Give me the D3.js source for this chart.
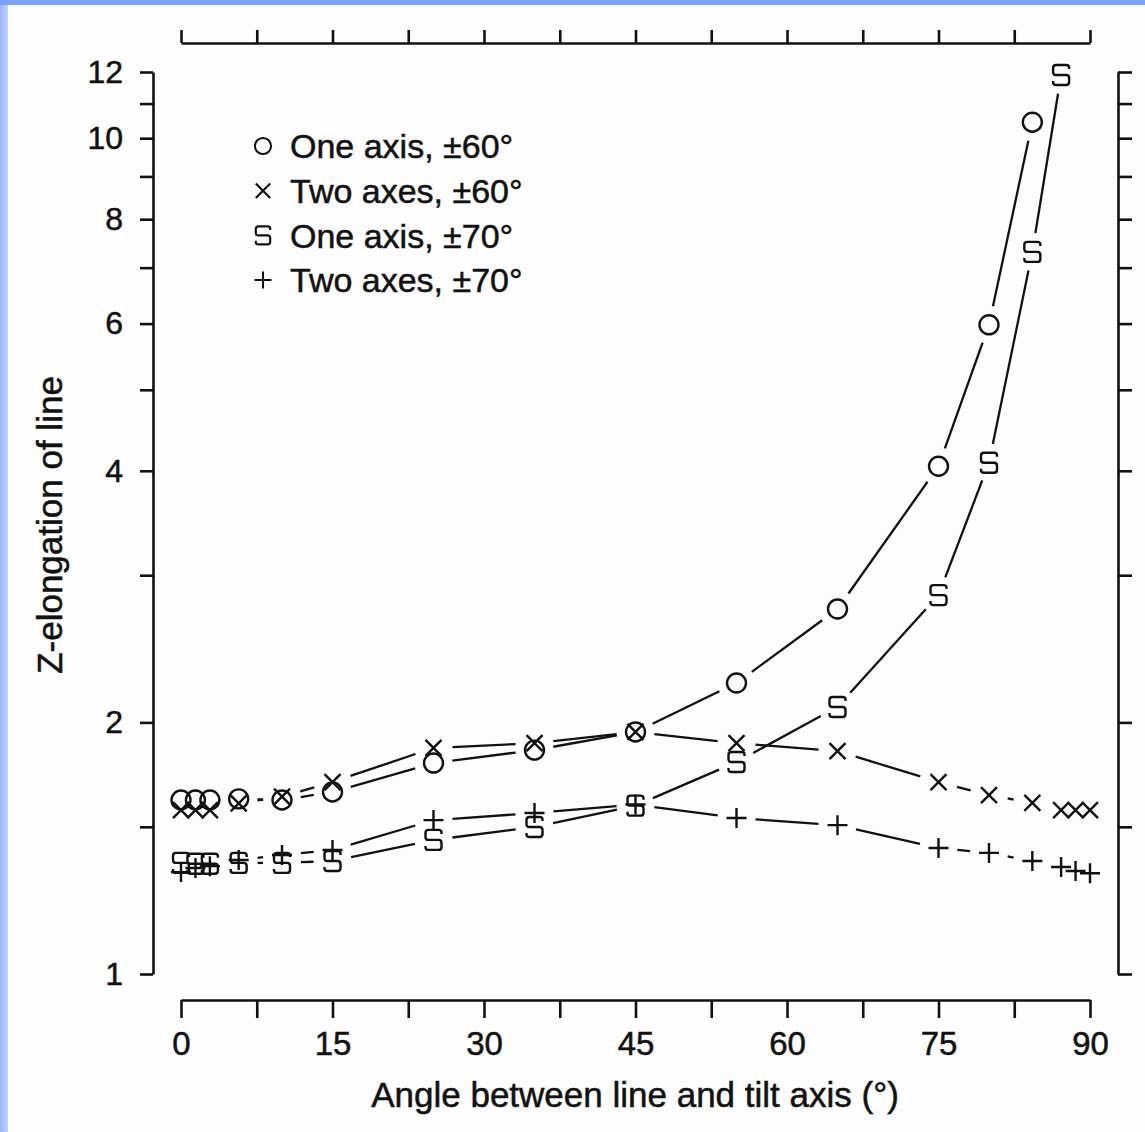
<!DOCTYPE html>
<head>
  <title>Z-elongation</title>
  <script src="https://d3js.org/d3.v7.min.js"></script>
  <style>
  body {margin: 0; background: #fdfdfd;}
  #chart {font-family: "Liberation Sans", Arial, sans-serif;}
  #chart text {fill: #111; stroke: #111; stroke-width: 0.5px;}
  .axis path, .axis line {stroke: #111; stroke-width: 2.6px;}
  .axis text {font-family: "Liberation Sans", Arial, sans-serif;}
  .seg {stroke: #111; stroke-width: 2.3px; fill: none;}
  .mark {stroke: #111; stroke-width: 2.4px; fill: none;}
  </style>
</head>
<body>
  <svg id="chart" width="1145" height="1132"></svg>
  <script>
  // angles (deg) shared by all four series
  var angles = [0, 1.43, 2.86, 5.71, 10, 15, 25, 35, 45, 55, 65, 75, 80, 84.29, 87.14, 88.57, 90];
  // one axis, +-60 (stops at 84.3)
  var oneAxis60 = [1.615, 1.615, 1.615, 1.62, 1.615, 1.651, 1.788, 1.853, 1.948, 2.229, 2.733, 4.05, 5.98, 10.45];
  // two axes, +-60
  var twoAxes60 = [1.571, 1.571, 1.571, 1.60, 1.63, 1.697, 1.864, 1.889, 1.948, 1.889, 1.848, 1.697, 1.637, 1.602, 1.571, 1.571, 1.571];
  // one axis, +-70 (stops at 87.1)
  var oneAxis70 = [1.358, 1.355, 1.355, 1.358, 1.358, 1.365, 1.447, 1.499, 1.59, 1.793, 2.087, 2.84, 4.09, 7.31, 11.9];
  // two axes, +-70
  var twoAxes70 = [1.324, 1.339, 1.346, 1.369, 1.388, 1.407, 1.528, 1.558, 1.595, 1.537, 1.507, 1.415, 1.396, 1.365, 1.343, 1.328, 1.32];

  var seriesNames = ["One axis, \u00b160\u00b0", "Two axes, \u00b160\u00b0", "One axis, \u00b170\u00b0", "Two axes, \u00b170\u00b0"];
  var seriesSymbols = ["circle", "cross", "s", "plus"];
  var seriesValues = [oneAxis60, twoAxes60, oneAxis70, twoAxes70];

  var yTicks = [1, 1.5, 2, 3, 4, 5, 6, 7, 8, 9, 10, 11, 12];
  var yLabels = [1, 2, 4, 6, 8, 10, 12];
  var xTicks = d3.range(0, 90.1, 7.5);
  var xLabels = [0, 15, 30, 45, 60, 75, 90];

  var svg = d3.select("#chart");

  // blue frame of the slide
  var grad = svg.append("defs").append("linearGradient").attr("id", "edge");
  grad.append("stop").attr("offset", "0%").attr("stop-color", "#98b6f7");
  grad.append("stop").attr("offset", "100%").attr("stop-color", "#bcd0fb");
  svg.append("rect").attr("x", 0).attr("y", 0).attr("width", 8).attr("height", 1132).style("fill", "url(#edge)");
  svg.append("rect").attr("x", 0).attr("y", 0).attr("width", 1145).attr("height", 5).style("fill", "#7c9ff6");

  var x = d3.scaleLinear().domain([0, 90]).range([181, 1090]);
  var y = d3.scaleLog().domain([1, 12]).range([974, 72]);

  // axes
  svg.append("g").attr("class", "axis")
    .attr("transform", "translate(153,0)")
    .call(d3.axisLeft(y).tickValues(yTicks).tickSize(13).tickSizeOuter(0).tickPadding(17)
      .tickFormat(function(d) { return yLabels.indexOf(d) >= 0 ? d : ""; }))
    .selectAll("text").style("font-size", "32px");

  svg.append("g").attr("class", "axis")
    .attr("transform", "translate(1118,0)")
    .call(d3.axisRight(y).tickValues(yTicks).tickSize(14).tickSizeOuter(0).tickFormat(""));

  svg.append("g").attr("class", "axis")
    .attr("transform", "translate(0,1000)")
    .call(d3.axisBottom(x).tickValues(xTicks).tickSize(18).tickSizeOuter(0).tickPadding(14)
      .tickFormat(function(d) { return xLabels.indexOf(d) >= 0 ? d : ""; }))
    .selectAll("text").style("font-size", "33px");

  svg.append("g").attr("class", "axis")
    .attr("transform", "translate(0,43)")
    .call(d3.axisTop(x).tickValues(xTicks).tickSize(13).tickSizeOuter(0).tickFormat(""));

  svg.selectAll(".axis path").style("fill", "none");
  svg.selectAll(".axis text").style("stroke-width", "0.5px");

  // axis titles
  svg.append("text")
    .attr("transform", "translate(49,525) rotate(-90)")
    .attr("text-anchor", "middle")
    .attr("dominant-baseline", "central")
    .style("font-size", "35px")
    .text("Z-elongation of line");

  svg.append("text")
    .attr("x", 635)
    .attr("y", 1107)
    .attr("text-anchor", "middle")
    .style("font-size", "35px")
    .text("Angle between line and tilt axis (\u00b0)");

  // marker shapes
  function drawMark(g, kind) {
    if (kind == "circle") {
      g.append("circle").attr("class", "mark").attr("r", 9.5);
    } else if (kind == "cross") {
      g.append("path").attr("class", "mark").attr("d", "M-8,-8L8,8M-8,8L8,-8");
    } else if (kind == "plus") {
      g.append("path").attr("class", "mark").attr("d", "M-10,0H10M0,-10V10");
    } else {
      g.append("path").attr("class", "mark")
        .attr("d", "M8,-6V-7.5Q8,-10 5,-10H-5Q-8,-10 -8,-7V-3Q-8,0 -5,0H5Q8,0 8,3V7Q8,10 5,10H-5Q-8,10 -8,7.5V6");
    }
  }

  // connecting lines, broken around the markers
  var gap = 19;
  seriesValues.forEach(function(vals, si) {
    var pts = vals.map(function(v, i) { return [x(angles[i]), y(v)]; });
    var segs = [];
    for (var i = 0; i < pts.length - 1; i++) {
      var dx = pts[i+1][0] - pts[i][0], dy = pts[i+1][1] - pts[i][1];
      var d = Math.sqrt(dx*dx + dy*dy);
      if (d - 2*gap > 3) {
        var ux = dx/d, uy = dy/d;
        segs.push([pts[i][0] + ux*gap, pts[i][1] + uy*gap, pts[i+1][0] - ux*gap, pts[i+1][1] - uy*gap]);
      }
    }
    svg.append("g").selectAll("line").data(segs).enter().append("line")
      .attr("class", "seg")
      .attr("x1", function(s) { return s[0]; })
      .attr("y1", function(s) { return s[1]; })
      .attr("x2", function(s) { return s[2]; })
      .attr("y2", function(s) { return s[3]; });

    svg.append("g").selectAll("g").data(vals).enter().append("g")
      .attr("transform", function(v, i) { return "translate(" + x(angles[i]) + "," + y(v) + ")"; })
      .each(function() { drawMark(d3.select(this), seriesSymbols[si]); });
  });

  // legend
  var legend = svg.append("g").attr("transform", "translate(263,146)");
  seriesNames.forEach(function(name, i) {
    var row = legend.append("g").attr("transform", "translate(0," + (i*44.7) + ")");
    var m = row.append("g").attr("transform", i == 1 || i == 2 ? "scale(0.9)" : "scale(0.85)");
    drawMark(m, seriesSymbols[i]);
    row.append("text")
      .attr("x", 27)
      .attr("dy", "0.36em")
      .style("font-size", "34px")
      .text(name);
  });
  </script>
</body>
